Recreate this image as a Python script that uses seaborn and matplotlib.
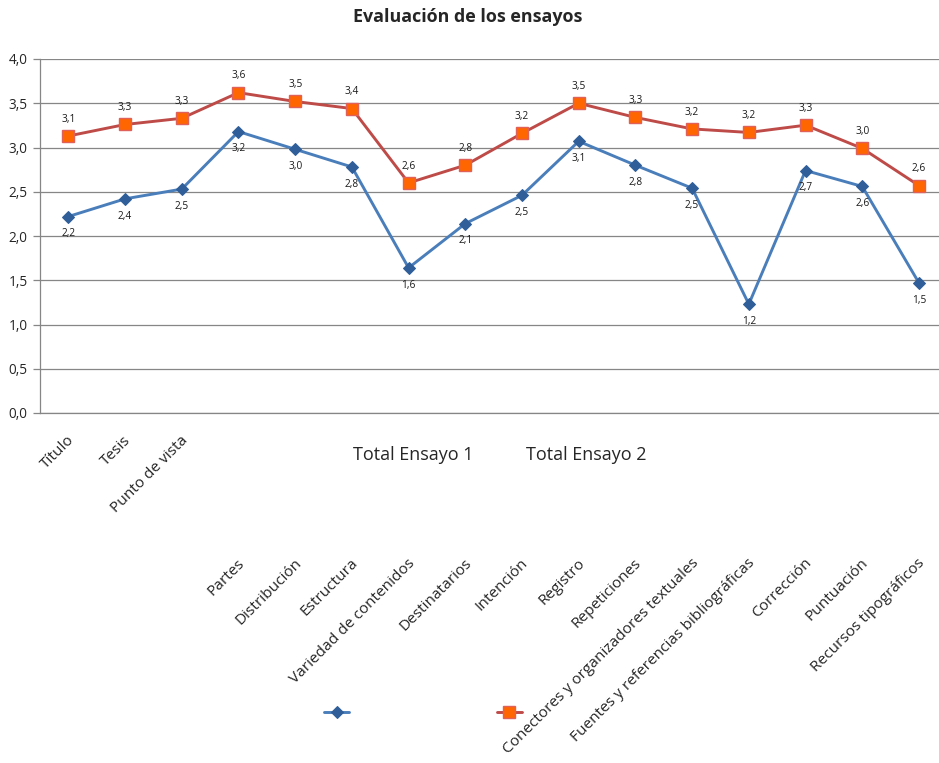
import numpy as np
import pandas as pd
import matplotlib.pyplot as plt
import matplotlib.transforms as mtransforms
import seaborn as sns

# Criterios evaluados (eje X)
categorias = ['Título', 'Tesis', 'Punto de vista', 'Partes', 'Distribución', 'Estructura',
              'Variedad de contenidos', 'Destinatarios', 'Intención', 'Registro', 'Repeticiones',
              'Conectores y organizadores textuales', 'Fuentes y referencias bibliográficas',
              'Corrección', 'Puntuación', 'Recursos tipográficos']

# Medias de cada ensayo
ensayo1 = [2.22, 2.42, 2.53, 3.18, 2.98, 2.78, 1.64, 2.14, 2.46, 3.07, 2.80, 2.54,
           1.23, 2.74, 2.56, 1.47]
ensayo2 = [3.13, 3.26, 3.33, 3.62, 3.52, 3.44, 2.60, 2.80, 3.16, 3.50, 3.34, 3.21,
           3.17, 3.252, 2.99, 2.57]

series = ['Total Ensayo 1', 'Total Ensayo 2']
yticks = [0, 0.5, 1, 1.5, 2, 2.5, 3, 3.5, 4]

df = pd.DataFrame({'pos': np.arange(len(categorias)), 'Criterio': categorias,
                   'Ensayo1': ensayo1, 'Ensayo2': ensayo2})

sns.set_style('white')
plt.rcParams['font.family'] = ['Open Sans', 'DejaVu Sans']

W, H = 939, 763
fig = plt.figure(figsize=(W / 100, H / 100), dpi=100)
ax = fig.add_axes([40 / W, 1 - 413 / H, 907.3 / W, 354 / H])

azul, azul_m = '#4A7EBB', '#2F5E99'
rojo, naranja, borde = '#BE4B48', '#FF6600', '#E0605A'

sns.lineplot(data=df, x='pos', y='Ensayo1', ax=ax, color=azul, linewidth=2.1,
             marker='D', markersize=6.3, markerfacecolor=azul_m, markeredgecolor=azul_m,
             label=series[0], legend=False)
sns.lineplot(data=df, x='pos', y='Ensayo2', ax=ax, color=rojo, linewidth=2.1,
             marker='s', markersize=8.5, markerfacecolor=naranja, markeredgecolor=borde,
             markeredgewidth=1, label=series[1], legend=False)

# Etiquetas de datos
fmt = lambda v: f'{v:.1f}'.replace('.', ',')
for i, (a, b) in enumerate(zip(ensayo1, ensayo2)):
    ax.annotate(fmt(a), (i, a), xytext=(0, -12.5), textcoords='offset points',
                ha='center', va='center', fontsize=7.3, color='#1a1a1a')
    ax.annotate(fmt(b), (i, b), xytext=(0, 12), textcoords='offset points',
                ha='center', va='center', fontsize=7.3, color='#1a1a1a')

ax.set_xlim(-0.5, len(categorias) - 0.5)
ax.set_ylim(0, 4)
ax.set_yticks(yticks)
ax.set_yticklabels([fmt(t) for t in yticks], fontsize=9.8)
ax.grid(axis='y', color='#868686', linewidth=0.9)
ax.set_axisbelow(True)

ax.set_xticks(np.arange(-0.5, len(categorias)), labels=[])
ax.set_xticks(np.arange(len(categorias)), labels=categorias, minor=True)
ax.tick_params(axis='x', which='major', length=5, color='#868686', width=0.9)
ax.tick_params(axis='x', which='minor', length=0, pad=18, labelsize=11.1)
ax.tick_params(axis='y', length=5, color='#868686', width=0.9, pad=4, left=True)
for lbl in ax.get_xticklabels(minor=True):
    lbl.set_rotation(45)
    lbl.set_ha('right')
    lbl.set_va('center')
    lbl.set_rotation_mode('anchor')
for i, lbl in enumerate(ax.get_xticklabels(minor=True)):
    dy = 0 if i < 3 else -1.23
    lbl.set_transform(lbl.get_transform() +
                      mtransforms.ScaledTranslation(0.04, dy, fig.dpi_scale_trans))

for s in ['top', 'right']:
    ax.spines[s].set_visible(False)
for s in ['left', 'bottom']:
    ax.spines[s].set_color('#868686')
    ax.spines[s].set_linewidth(0.9)
ax.set_xlabel('')
ax.set_ylabel('')

fig.text(468 / W, 1 - 17 / H, 'Evaluación de los ensayos', ha='center', va='center',
         fontsize=12.9, fontweight='bold')

# Leyenda: marcadores abajo, textos desplazados hacia arriba (como en el original)
handles, labels = ax.get_legend_handles_labels()
leg = fig.legend(handles, labels, loc='center', bbox_to_anchor=(485 / W, 1 - 713 / H),
                 ncol=2, frameon=False, fontsize=13, handlelength=1.4,
                 handletextpad=0.2, columnspacing=1.3)
for t in leg.get_texts():
    t.set_transform(t.get_transform() +
                    mtransforms.ScaledTranslation(0, 2.58, fig.dpi_scale_trans))

fig.savefig('out.png', dpi=100)
